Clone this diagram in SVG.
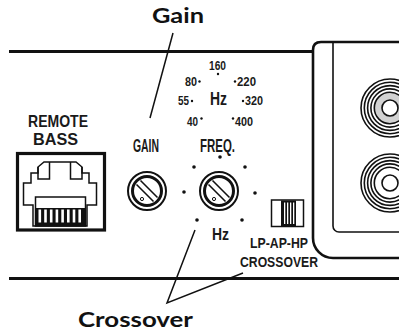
<svg xmlns="http://www.w3.org/2000/svg" width="399" height="331" viewBox="0 0 399 331">
<style>
.lbl{font-family:"Liberation Sans",Arial,sans-serif;font-weight:bold;fill:#1a1a1a}
.big{font-family:Lato,"Open Sans",sans-serif;font-weight:bold;fill:#111}
.ln{fill:none;stroke:#111}
.dot{fill:#111}
.ring{fill:none;stroke:#111;stroke-width:1.6}
</style>
<defs>
<g id="knob">
<circle r="19" fill="#fff" stroke="#111" stroke-width="2"/>
<circle r="14.5" fill="#fff" stroke="#111" stroke-width="3"/>
<line x1="-10.5" y1="-6.5" x2="6.5" y2="10.5" stroke="#111" stroke-width="1.6"/>
<line x1="-6.5" y1="-10.5" x2="10.5" y2="6.5" stroke="#111" stroke-width="1.6"/>
<circle cx="-5" cy="8" r="1.6" fill="#fff" stroke="#111" stroke-width="1"/>
</g>
<g id="jack">
<circle r="29" class="ring"/>
<circle r="25.7" class="ring"/>
<circle r="22.4" class="ring"/>
<circle r="19.1" class="ring"/>
</g>
</defs>
<rect width="399" height="331" fill="#fff"/>

<g id="panel">
<line x1="9" y1="51.5" x2="314" y2="51.5" class="ln" stroke-width="2.8"/>
<line x1="9" y1="278.5" x2="399" y2="278.5" class="ln" stroke-width="2.8"/>
<path d="M399 42 H321 Q313 42 313 50 V238 A20 20 0 0 0 333 258 H399" class="ln" stroke-width="2.6"/>
<path d="M333 42 V226 A6 6 0 0 0 339 232 H399" class="ln" stroke-width="1.6"/>
</g>

<g id="jack-top">
<use href="#jack" x="390" y="108"/>
<circle cx="390" cy="108" r="15.7" fill="#d2d2d2" stroke="#111" stroke-width="1.6"/>
<circle cx="390" cy="108" r="8" fill="#fff" stroke="#111" stroke-width="1.6"/>
</g>
<g id="jack-bottom">
<use href="#jack" x="390" y="183"/>
<circle cx="390" cy="183" r="15.7" fill="#fff" stroke="#111" stroke-width="1.6"/>
<circle cx="390" cy="183" r="8" fill="#fff" stroke="#111" stroke-width="1.6"/>
</g>

<g id="remote-bass">
<text class="lbl" x="28" y="127" font-size="16.5" textLength="60" lengthAdjust="spacingAndGlyphs">REMOTE</text>
<text class="lbl" x="33" y="145" font-size="16.5" textLength="45" lengthAdjust="spacingAndGlyphs">BASS</text>
<rect x="17.5" y="153.5" width="87" height="76.5" class="ln" stroke-width="3.2"/>
<path d="M44 162 H76 L82 167 V173 H89 V183 H96.5 V205 H87 V226 H33 V205 H23.5 V183 H31 V173 H38 V167 Z" class="ln" stroke-width="1.5"/>
<path d="M38 167 V179 H49.5 V162 M82 167 V179 H70.5 V162" class="ln" stroke-width="1.5"/>
<rect x="35.5" y="197" width="50" height="29" class="ln" stroke-width="1.5"/>
<rect x="35.5" y="208" width="50" height="18" fill="#111"/>
<g fill="#fff">
<rect x="38.5" y="209.5" width="2.6" height="13"/><rect x="44.2" y="209.5" width="2.6" height="13"/>
<rect x="49.9" y="209.5" width="2.6" height="13"/><rect x="55.6" y="209.5" width="2.6" height="13"/>
<rect x="61.3" y="209.5" width="2.6" height="13"/><rect x="67" y="209.5" width="2.6" height="13"/>
<rect x="72.7" y="209.5" width="2.6" height="13"/><rect x="78.4" y="209.5" width="2.6" height="13"/>
</g>
</g>

<g id="gain-knob">
<text class="lbl" x="133" y="152" font-size="18" textLength="26" lengthAdjust="spacingAndGlyphs">GAIN</text>
<use href="#knob" x="147" y="191"/>
</g>

<g id="freq-knob">
<text class="lbl" x="200" y="152" font-size="18" textLength="35" lengthAdjust="spacingAndGlyphs">FREQ.</text>
<use href="#knob" x="219" y="191"/>
<circle class="dot" cx="220" cy="157" r="1.8"/>
<circle class="dot" cx="194" cy="167" r="1.8"/>
<circle class="dot" cx="245" cy="167" r="1.8"/>
<circle class="dot" cx="184" cy="192" r="1.8"/>
<circle class="dot" cx="255" cy="193" r="1.8"/>
<circle class="dot" cx="197" cy="220" r="1.8"/>
<circle class="dot" cx="242" cy="220" r="1.8"/>
<text class="lbl" x="212" y="240" font-size="16" textLength="17" lengthAdjust="spacingAndGlyphs">Hz</text>
</g>

<g id="freq-scale">
<text class="lbl" x="209" y="70" font-size="12" textLength="17" lengthAdjust="spacingAndGlyphs">160</text>
<circle class="dot" cx="218" cy="74" r="1.2"/>
<text class="lbl" x="185" y="86" font-size="12" textLength="12" lengthAdjust="spacingAndGlyphs">80</text>
<circle class="dot" cx="199.5" cy="81.5" r="1.2"/>
<text class="lbl" x="237" y="86" font-size="12" textLength="19" lengthAdjust="spacingAndGlyphs">220</text>
<circle class="dot" cx="235" cy="81.5" r="1.2"/>
<text class="lbl" x="178" y="105" font-size="12" textLength="11" lengthAdjust="spacingAndGlyphs">55</text>
<circle class="dot" cx="192" cy="101" r="1.2"/>
<text class="lbl" x="210" y="105" font-size="17.5" textLength="17" lengthAdjust="spacingAndGlyphs">Hz</text>
<text class="lbl" x="245" y="105" font-size="12" textLength="18" lengthAdjust="spacingAndGlyphs">320</text>
<circle class="dot" cx="243" cy="101" r="1.2"/>
<text class="lbl" x="187" y="126" font-size="12" textLength="11" lengthAdjust="spacingAndGlyphs">40</text>
<circle class="dot" cx="201.5" cy="118.5" r="1.2"/>
<text class="lbl" x="235" y="126" font-size="12" textLength="18" lengthAdjust="spacingAndGlyphs">400</text>
<circle class="dot" cx="233" cy="118.5" r="1.2"/>
</g>

<g id="crossover-switch">
<rect x="271.5" y="200" width="32" height="26.5" class="ln" stroke-width="1.5"/>
<rect x="281" y="200.5" width="15" height="25.5" fill="#111"/>
<g fill="#fff">
<rect x="284" y="202.5" width="1.3" height="21.5"/>
<rect x="287" y="202.5" width="1.3" height="21.5"/>
<rect x="290" y="202.5" width="1.3" height="21.5"/>
<rect x="293" y="202.5" width="1.3" height="21.5"/>
</g>
<text class="lbl" x="250" y="248" font-size="15" textLength="58" lengthAdjust="spacingAndGlyphs">LP-AP-HP</text>
<text class="lbl" x="240" y="267" font-size="15" textLength="78" lengthAdjust="spacingAndGlyphs">CROSSOVER</text>
</g>

<g id="callout-gain">
<text class="big" x="152" y="23" font-size="21" textLength="52" lengthAdjust="spacingAndGlyphs">Gain</text>
</g>
<g id="callout-crossover">
<text class="big" x="78" y="327" font-size="20" textLength="115" lengthAdjust="spacingAndGlyphs">Crossover</text>
</g>

<g id="connectors" class="ln" stroke-width="1.5">
<line x1="173" y1="33" x2="150" y2="118"/>
<polyline points="195,230 167,303 243,273"/>
</g>
</svg>
